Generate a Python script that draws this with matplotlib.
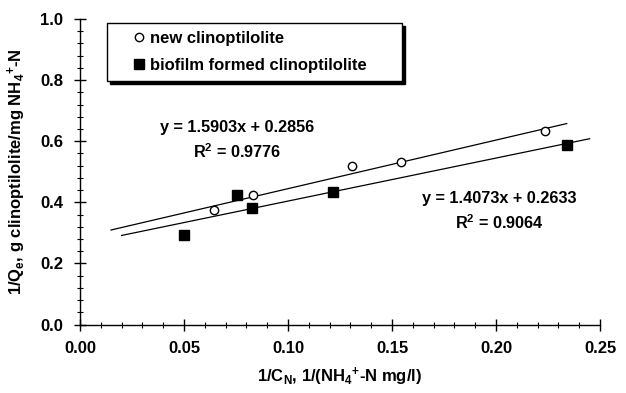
import matplotlib
matplotlib.use('Agg')
import matplotlib.pyplot as plt
import numpy as np
from matplotlib.ticker import MultipleLocator, FormatStrFormatter

plt.rcParams['font.family'] = 'Liberation Sans'
plt.rcParams['font.weight'] = 'bold'
plt.rcParams['axes.labelweight'] = 'bold'
plt.rcParams['mathtext.fontset'] = 'custom'
plt.rcParams['mathtext.rm'] = 'Liberation Sans:bold'
plt.rcParams['mathtext.it'] = 'Liberation Sans:bold'
plt.rcParams['mathtext.bf'] = 'Liberation Sans:bold'
plt.rcParams['mathtext.default'] = 'bf'

# data
new_x = [0.0646, 0.0830, 0.1306, 0.1542, 0.2236]
new_y = [0.375, 0.425, 0.520, 0.531, 0.633]
bio_x = [0.0502, 0.0757, 0.0825, 0.1218, 0.2343]
bio_y = [0.294, 0.424, 0.382, 0.433, 0.587]

# trend lines as printed on the chart
new_fit = (1.5903, 0.2856, 0.9776)
bio_fit = (1.4073, 0.2633, 0.9064)
new_line_x = [0.0149, 0.234]
bio_line_x = [0.020, 0.245]

fs_tick = 12
fs_eq = 11.7
fs_leg = 12
fs_lab = 12

fig = plt.figure(figsize=(6.26, 3.93), dpi=100)
ax = fig.add_axes([0.1278, 0.1743, 0.8307, 0.7774])

# fitted lines
for (m, b, r2), lx in [(new_fit, new_line_x), (bio_fit, bio_line_x)]:
    lx = np.array(lx)
    ax.plot(lx, m * lx + b, color='black', lw=0.9, zorder=2)

ax.plot(new_x, new_y, 'o', ms=6, mfc='white', mec='black', mew=1.0,
        label='new clinoptilolite', zorder=3)
ax.plot(bio_x, bio_y, 's', ms=6.5, mfc='black', mec='black',
        label='biofilm formed clinoptilolite', zorder=3)

# equations
ax.text(0.0755, 0.644, 'y = %.4fx + %.4f' % new_fit[:2], ha='center', va='center', fontsize=fs_eq)
ax.text(0.0755, 0.566, 'R$^2$ = %.4f' % new_fit[2], ha='center', va='center', fontsize=fs_eq)
ax.text(0.2014, 0.411, 'y = %.4fx + %.4f' % bio_fit[:2], ha='center', va='center', fontsize=fs_eq)
ax.text(0.2014, 0.333, 'R$^2$ = %.4f' % bio_fit[2], ha='center', va='center', fontsize=fs_eq)

ax.set_xlim(0, 0.25)
ax.set_ylim(0, 1.0)
ax.xaxis.set_major_locator(MultipleLocator(0.05))
ax.xaxis.set_minor_locator(MultipleLocator(0.01))
ax.yaxis.set_major_locator(MultipleLocator(0.2))
ax.yaxis.set_minor_locator(MultipleLocator(0.04))
ax.xaxis.set_major_formatter(FormatStrFormatter('%.2f'))
ax.yaxis.set_major_formatter(FormatStrFormatter('%.1f'))
ax.tick_params(which='major', direction='inout', length=8, width=1, labelsize=fs_tick, pad=8)
ax.tick_params(which='minor', direction='inout', length=5, width=0.8)
for lbl in ax.get_xticklabels() + ax.get_yticklabels():
    lbl.set_fontweight('bold')
for s in ['top', 'right']:
    ax.spines[s].set_visible(False)
for s in ['left', 'bottom']:
    ax.spines[s].set_linewidth(1.0)

ax.set_xlabel(r'1/C$_{N}$, 1/(NH$_{4}$$^{+}$-N mg/l)', fontsize=fs_lab,
              fontweight='bold', labelpad=7)
ax.set_ylabel(r'1/Q$_{e}$, g clinoptilolite/mg NH$_{4}$$^{+}$-N', fontsize=fs_lab,
              fontweight='bold', labelpad=9)

leg = ax.legend(loc='upper left', bbox_to_anchor=(0.052, 0.79, 0.567, 0.196),
                mode='expand', borderaxespad=0, fancybox=False, edgecolor='black',
                framealpha=1, shadow={'color': 'black', 'alpha': 1},
                prop={'size': fs_leg, 'weight': 'bold'}, numpoints=1,
                handlelength=2.9, handletextpad=-0.75, borderpad=0.45, labelspacing=0.75)
leg.get_frame().set_linewidth(1.0)

fig.savefig('out.png', dpi=100)
